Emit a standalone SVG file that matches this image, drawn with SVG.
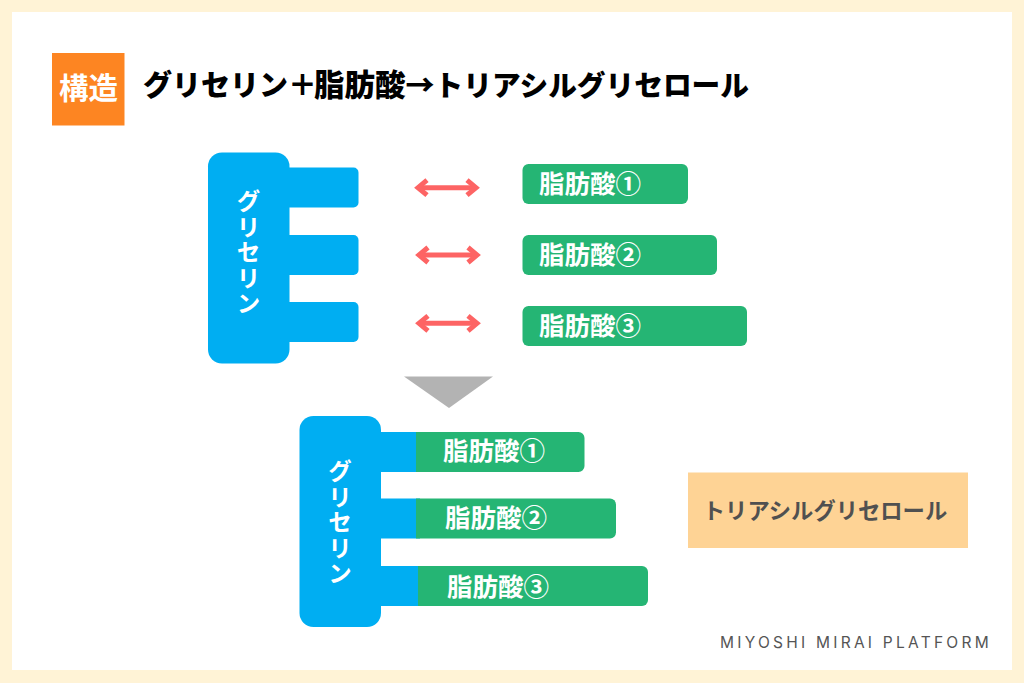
<svg xmlns="http://www.w3.org/2000/svg" width="1024" height="683" viewBox="0 0 1024 683">
<style>
text{font-family:"Noto Sans CJK JP","Noto Sans",sans-serif}
.blue{fill:#00aef2}
.green{fill:#25b574}
.fa{fill:#fff;font-size:25.500px;font-weight:700}
.gly{fill:#fff;font-size:24px;font-weight:700;writing-mode:vertical-rl;letter-spacing:1.500px}
.link{fill:none;stroke:#fd6464;stroke-width:5;marker-start:url(#chev);marker-end:url(#chev)}
.foot{font-family:Inter,Lato,sans-serif;font-size:15.500px;letter-spacing:3.250px;fill:#555}
</style>
<defs>
<marker id="chev" viewBox="0 0 24 24" refX="16" refY="12" markerUnits="userSpaceOnUse" markerWidth="24" markerHeight="24" orient="auto-start-reverse">
<path d="M7 4.500L16 12L7 19.500" fill="none" stroke="#fd6464" stroke-width="5"/>
</marker>
</defs>
<rect width="1024" height="683" fill="#fff3d6"/>
<rect x="12" y="12" width="1000" height="658" fill="#fff"/>
<g id="badge">
<rect x="52" y="53" width="72.500" height="72.500" fill="#fd8522"/>
<text x="88.500" y="98.500" font-size="29.500" font-weight="700" fill="#fff" text-anchor="middle">構造</text>
</g>
<g id="title"><text x="143" y="96" font-size="29" font-weight="900" fill="#000">グリセリン＋<tspan font-size="30.500" dx="-3">脂肪酸</tspan>→<tspan font-size="28.700">トリアシルグリセロール</tspan></text></g>
<g id="glycerin-top">
<rect class="blue" x="208" y="152.500" width="81.500" height="211" rx="14"/>
<rect class="blue" x="280" y="167.500" width="78.500" height="40" rx="5"/>
<rect class="blue" x="280" y="235" width="78.500" height="40" rx="5"/>
<rect class="blue" x="280" y="302" width="78.500" height="40" rx="5"/>
<text class="gly" x="248.500" y="189">グリセリン</text>
</g>
<g id="connectors">
<path class="link" d="M418 187.700H476"/>
<path class="link" d="M419 255H477"/>
<path class="link" d="M419 323.300H477"/>
</g>
<g id="fa1-top"><rect class="green" x="522.500" y="164" width="165.500" height="40" rx="6"/><text class="fa" x="539" y="193">脂肪酸①</text></g>
<g id="fa2-top"><rect class="green" x="522.500" y="235" width="194.500" height="40" rx="6"/><text class="fa" x="539" y="264">脂肪酸②</text></g>
<g id="fa3-top"><rect class="green" x="522.500" y="306" width="224.500" height="40" rx="6"/><text class="fa" x="539" y="335">脂肪酸③</text></g>
<g id="down-arrow"><path d="M404 376.500H493L449 408Z" fill="#b3b3b3"/></g>
<g id="glycerin-bottom">
<rect class="blue" x="299.500" y="416" width="81.500" height="211" rx="14"/>
<rect class="blue" x="375" y="432" width="45" height="40"/>
<rect class="blue" x="375" y="498.500" width="45" height="40"/>
<rect class="blue" x="375" y="566" width="47" height="40"/>
<text class="gly" x="340" y="459">グリセリン</text>
</g>
<g id="fa1-bottom"><path class="green" d="M416 432H578.500a6 6 0 0 1 6 6V466a6 6 0 0 1-6 6H416Z"/><text class="fa" x="443" y="460">脂肪酸①</text></g>
<g id="fa2-bottom"><path class="green" d="M416 498.500H610a6 6 0 0 1 6 6V532.500a6 6 0 0 1-6 6H416Z"/><text class="fa" x="445" y="527">脂肪酸②</text></g>
<g id="fa3-bottom"><path class="green" d="M418 566H642a6 6 0 0 1 6 6V600a6 6 0 0 1-6 6H418Z"/><text class="fa" x="447" y="596">脂肪酸③</text></g>
<g id="result">
<rect x="688" y="472.500" width="280" height="75.500" fill="#fed395"/>
<text x="825" y="518.500" font-size="22.300" font-weight="700" fill="#505050" text-anchor="middle">トリアシルグリセロール</text>
</g>
<text class="foot" x="720" y="648">MIYOSHI MIRAI PLATFORM</text>
</svg>
